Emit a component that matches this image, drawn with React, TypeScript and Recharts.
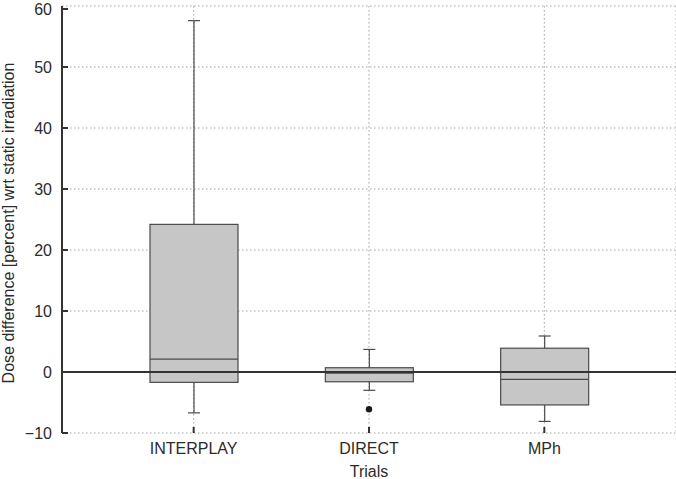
import React from 'react';
import { ComposedChart, Bar, Scatter, XAxis, YAxis, CartesianGrid, ReferenceLine } from 'recharts';

const categories = ['INTERPLAY', 'DIRECT', 'MPh'];
const whiskerLow = [-6.7, -3.0, -8.1];
const quartile1 = [-1.7, -1.6, -5.4];
const medians = [2.1, -0.2, -1.2];
const quartile3 = [24.2, 0.7, 3.9];
const whiskerHigh = [57.6, 3.7, 5.9];
const outliers: (number | null)[] = [null, -6.1, null];
const yTicks = [-10, 0, 10, 20, 30, 40, 50, 60];

const data = categories.map((name, i) => ({
  name,
  range: [whiskerLow[i], whiskerHigh[i]],
  low: whiskerLow[i],
  q1: quartile1[i],
  median: medians[i],
  q3: quartile3[i],
  high: whiskerHigh[i],
  outlier: outliers[i],
}));

const FONT = '"Liberation Sans", Arial, sans-serif';
const TEXT = '#2b2b2b';
const LINE = '#4a4a4a';

const BoxShape = (props: any) => {
  const { x, y, width, height, payload } = props;
  const top = Math.min(y, y + height);
  const bottom = Math.max(y, y + height);
  const span = payload.high - payload.low;
  const px = (v: number) => top + ((payload.high - v) / span) * (bottom - top);
  const cx = x + width / 2;
  const cap = 6;
  const yq1 = px(payload.q1);
  const yq3 = px(payload.q3);
  const ymed = px(payload.median);
  return (
    <g>
      <line x1={cx} y1={top} x2={cx} y2={bottom} stroke={LINE} strokeWidth={1.2} />
      <line x1={cx - cap} y1={top} x2={cx + cap} y2={top} stroke={LINE} strokeWidth={1.2} />
      <line x1={cx - cap} y1={bottom} x2={cx + cap} y2={bottom} stroke={LINE} strokeWidth={1.2} />
      <rect x={x} y={yq3} width={width} height={yq1 - yq3} fill="#c6c6c7" stroke={LINE} strokeWidth={1.2} />
      <line x1={x} y1={ymed} x2={x + width} y2={ymed} stroke={LINE} strokeWidth={1.2} />
    </g>
  );
};

const YTick = (props: any) => {
  const { x, y, payload } = props;
  const label = payload.value < 0 ? '\u2212' + Math.abs(payload.value) : String(payload.value);
  return (
    <g>
      <line x1={x + 10} y1={y} x2={x + 16} y2={y} stroke="#333" strokeWidth={2} />
      <text x={x} y={y} dy="0.36em" textAnchor="end" fontSize={16} fontFamily={FONT} fill={TEXT}>
        {label}
      </text>
    </g>
  );
};

const XTick = (props: any) => {
  const { x, y, payload } = props;
  return (
    <g>
      <line x1={x} y1={y - 10} x2={x} y2={y - 16} stroke="#333" strokeWidth={2} />
      <text x={x} y={y} dy="0.71em" textAnchor="middle" fontSize={16} fontFamily={FONT} fill={TEXT}>
        {payload.value}
      </text>
    </g>
  );
};

const YLabel = () => {
  const cx = 14;
  const cy = 223;
  return (
    <text x={cx} y={cy} transform={`rotate(-90 ${cx} ${cy})`} textAnchor="middle" fontSize={16} fontFamily={FONT} fill={TEXT}>
      Dose difference [percent] wrt static irradiation
    </text>
  );
};

const XLabel = (props: any) => {
  const vb = props.viewBox || {};
  const cx = (vb.x ?? 62) + (vb.width ?? 614) / 2;
  return (
    <text x={cx} y={477} textAnchor="middle" fontSize={16} fontFamily={FONT} fill={TEXT}>
      Trials
    </text>
  );
};

const Dot = (props: any) => {
  const { cx, cy } = props;
  if (cx == null || cy == null) return null;
  return <circle cx={cx} cy={cy} r={3.2} fill="#1a1a1a" />;
};

export default function App() {
  return (
    <div style={{ position: 'absolute', left: 0, top: 0, width: 676, height: 479, background: '#fff' }}>
      <ComposedChart
        width={676}
        height={479}
        data={data}
        margin={{ top: 6, right: 0, bottom: 0, left: 0 }}
      >
        <CartesianGrid stroke="#a3a3a3" strokeDasharray="1.5 2.5" strokeWidth={1} />
        <XAxis
          dataKey="name"
          type="category"
          height={46}
          padding={{ left: 44, right: 44 }}
          axisLine={false}
          tickLine={false}
          tickSize={6}
          tickMargin={4}
          tick={<XTick />}
          label={<XLabel />}
        />
        <YAxis
          type="number"
          domain={[-10, 60]}
          ticks={yTicks}
          width={62}
          axisLine={{ stroke: '#333', strokeWidth: 2 }}
          tickLine={false}
          tickSize={6}
          tickMargin={4}
          tick={<YTick />}
          label={<YLabel />}
        />
        <ReferenceLine y={0} stroke="#333" strokeWidth={2} />
        <Bar dataKey="range" barSize={88} shape={<BoxShape />} isAnimationActive={false} />
        <Scatter dataKey="outlier" shape={<Dot />} isAnimationActive={false} />
      </ComposedChart>
    </div>
  );
}
